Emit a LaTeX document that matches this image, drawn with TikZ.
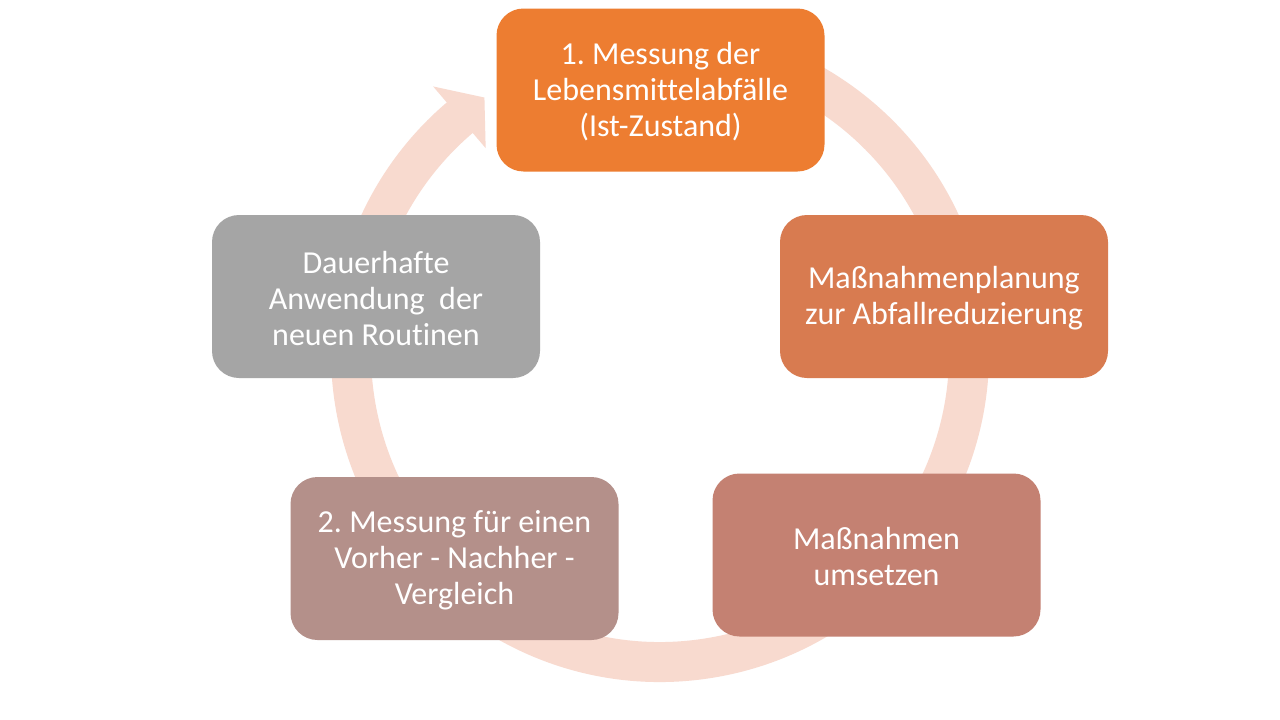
\documentclass[tikz,border=0pt]{standalone}
\usepackage{fontspec}
\setmainfont{Carlito}[Ligatures=NoCommon]
\frenchspacing
\definecolor{cOne}{HTML}{ED7D31}
\definecolor{cTwo}{HTML}{D87B50}
\definecolor{cThree}{HTML}{C48172}
\definecolor{cFour}{HTML}{B4908A}
\definecolor{cFive}{HTML}{A5A5A5}
\definecolor{ringcol}{HTML}{F8DACF}
\tikzset{
  procbox/.style={draw=none, rectangle, rounded corners=27pt, minimum width=328pt, minimum height=163pt, inner sep=0pt},
  boxtext/.style={text=white, align=center, inner sep=0pt, font=\fontsize{32}{36}\selectfont},
  ringline/.style={draw=ringcol, line width=40pt},
  ringhead/.style={fill=ringcol, draw=none},
}
\begin{document}
\begin{tikzpicture}[x=1pt, y=-1pt]
\useasboundingbox (0,0) rectangle (1280,720);
\fill[white] (0,0) rectangle (1280,720);
\coordinate (C) at (660,353);
% cycle ring
\draw[ringline] ([shift={(-100:309)}]C) arc[start angle=-100, end angle=229.8, radius=309];
\fill[ringhead] ([shift={(229.6:350)}]C) -- ([shift={(235.5:310)}]C) -- ([shift={(229.6:269)}]C) -- cycle;
% boxes
\node[procbox, fill=cOne]   (b1) at (660.5,90)  {};
\node[procbox, fill=cTwo]   (b2) at (944,296.5) {};
\node[procbox, fill=cThree] (b3) at (876.5,555) {};
\node[procbox, fill=cFour]  (b4) at (454.5,558.5) {};
\node[procbox, fill=cFive]  (b5) at (376,296.5) {};
% texts
\node[boxtext] (t1) at ([yshift=-2pt]b1.center) {1. Messung der\\Lebensmittelabfälle\\(Ist-Zustand)};
\node[boxtext] (t2) at ([yshift=-2pt]b2.center) {Maßnahmenplanung\\zur Abfallreduzierung};
\node[boxtext] (t3) at ([yshift=-2pt]b3.center) {Maßnahmen\\umsetzen};
\node[boxtext] (t4) at ([yshift=-2pt]b4.center) {2. Messung für einen\\Vorher - Nachher -\\Vergleich};
\node[boxtext] (t5) at ([yshift=-2pt]b5.center) {Dauerhafte\\Anwendung~~der\\neuen Routinen};
\end{tikzpicture}
\end{document}
